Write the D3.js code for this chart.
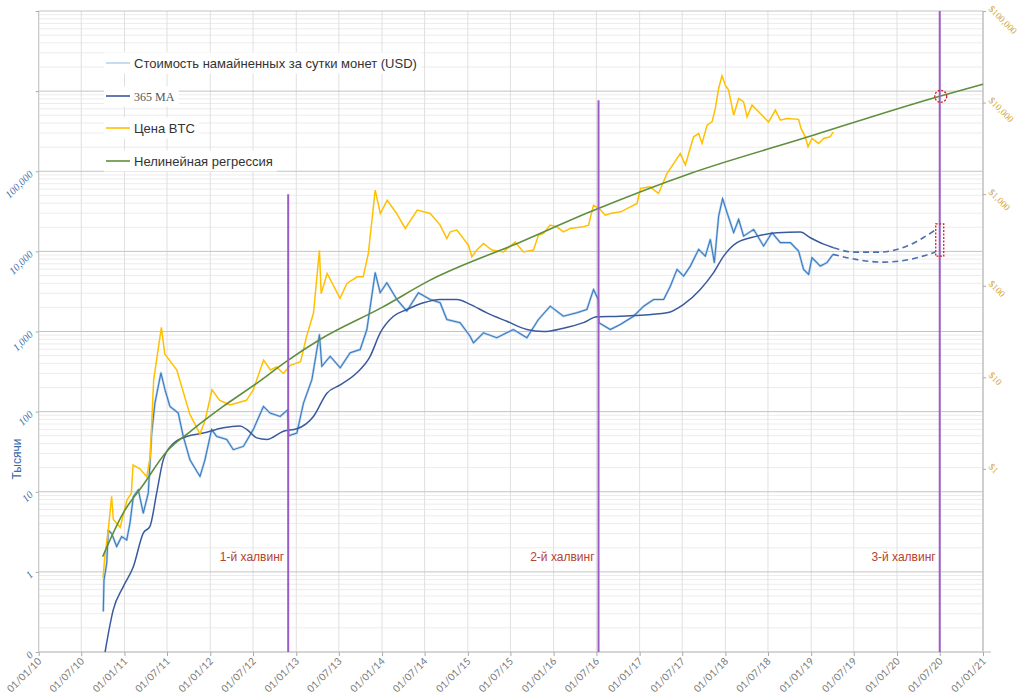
<!DOCTYPE html>
<html>
<head>
<meta charset="utf-8">
<script src="https://cdn.jsdelivr.net/npm/d3@7"></script>
<style>
  body { margin: 0; background: #fff; }
  svg { display: block; }
</style>
</head>
<body>
<div id="chart"></div>
<script>
// ---- DATA (decimal year, value) ----

// daily mined coin value, thousands USD (left axis)
var minedData = [
  [2010.753,0.32],[2010.761,0.79],[2010.793,1.28],[2010.811,3.3],[2010.851,3.0],[2010.909,2.07],
  [2010.967,2.76],[2011.026,2.5],[2011.064,4.06],[2011.103,8.7],[2011.161,10.6],[2011.219,5.4],
  [2011.277,9.6],[2011.317,54],[2011.355,128],[2011.425,305],[2011.472,188],[2011.530,116],
  [2011.627,96],[2011.685,49],[2011.763,25],[2011.880,15.5],[2011.938,25],[2012.016,60],
  [2012.075,49],[2012.191,45],[2012.268,33.5],[2012.385,36.8],[2012.501,60],[2012.618,116],
  [2012.696,96],[2012.812,87],[2012.900,105],[2012.912,50],[2013.007,54],[2013.084,128],
  [2013.182,251],[2013.270,917],[2013.298,368],[2013.395,491],[2013.512,352],[2013.628,542],
  [2013.745,596],[2013.823,1059],[2013.920,5420],[2013.978,3048],[2014.056,4064],[2014.172,2512],
  [2014.289,1794],[2014.424,3048],[2014.561,2512],[2014.677,2284],[2014.755,1413],[2014.910,1285],
  [2015.026,873],[2015.065,723],[2015.182,964],[2015.338,835],[2015.531,1059],[2015.688,835],
  [2015.823,1413],[2015.960,2070],[2016.114,1552],[2016.270,1714],[2016.387,1884],[2016.464,3350],
  [2016.518,2512],[2016.526,1285],[2016.659,1059],[2016.775,1223],[2016.930,1552],[2017.047,2070],
  [2017.163,2512],[2017.280,2512],[2017.358,3681],[2017.436,5957],[2017.513,4910],[2017.591,6550],
  [2017.688,10600],[2017.766,8730],[2017.824,14100],[2017.871,7230],[2017.921,27600],[2017.967,45600],
  [2018.019,30500],[2018.096,17100],[2018.154,25100],[2018.212,15500],[2018.329,18800],[2018.445,11650],
  [2018.543,17100],[2018.640,12850],[2018.757,12850],[2018.853,10080],[2018.911,5960],[2018.970,5160],
  [2019.009,8340],[2019.106,6550],[2019.184,7230],[2019.254,9170]
];

// 365-day moving average, thousands USD (left axis)
var maData = [
  [2010.774,0.1],[2010.869,0.335],[2010.986,0.655],[2011.103,1.16],[2011.219,3.05],[2011.297,3.7],
  [2011.375,9.6],[2011.452,25],[2011.569,40],[2011.725,49],[2011.918,54],[2012.152,63],
  [2012.346,66],[2012.424,60],[2012.541,47],[2012.657,45],[2012.851,57],[2013.007,61],
  [2013.200,87],[2013.357,170],[2013.512,215],[2013.706,305],[2013.861,490],[2013.978,960],
  [2014.133,1550],[2014.289,1880],[2014.483,2280],[2014.677,2510],[2014.872,2510],[2015.026,2180],
  [2015.221,1710],[2015.455,1340],[2015.688,1060],[2015.881,1000],[2016.114,1100],[2016.347,1290],
  [2016.503,1530],[2016.775,1550],[2016.930,1580],[2017.319,1710],[2017.513,2180],[2017.707,3350],
  [2017.862,5420],[2017.979,8730],[2018.135,12850],[2018.368,15500],[2018.601,17100],[2018.873,17400],
  [2018.990,14800],[2019.145,12300],[2019.261,11100]
];

// dashed projections to the 3rd halving (left axis)
var projUpper = [[2019.261,11100],[2019.494,9800],[2019.805,9800],[2020.117,11650],[2020.446,18500]];
var projLower = [[2019.254,9170],[2019.520,7940],[2019.836,7350],[2020.148,7940],[2020.446,9800]];

// BTC price, USD (right axis)
var priceData = [
  [2010.75,0.064],[2010.77,0.11],[2010.81,0.21],[2010.85,0.50],[2010.87,0.28],[2010.95,0.23],
  [2011.03,0.46],[2011.08,0.54],[2011.10,1.10],[2011.18,1.0],[2011.26,0.82],[2011.30,1.36],
  [2011.34,9.3],[2011.43,35],[2011.47,18],[2011.61,12],[2011.76,4.0],[2011.88,2.4],
  [2011.94,3.4],[2012.02,7.3],[2012.11,5.6],[2012.23,5.0],[2012.42,5.6],[2012.50,7.3],
  [2012.62,15.4],[2012.70,12],[2012.77,13],[2012.85,11],[2012.93,13.5],[2013.05,14.8],
  [2013.12,28],[2013.20,50],[2013.27,244],[2013.29,82],[2013.36,136],[2013.51,73],
  [2013.59,106],[2013.71,125],[2013.78,125],[2013.84,225],[2013.92,1106],[2013.98,615],
  [2014.06,860],[2014.17,615],[2014.27,422],[2014.41,669],[2014.561,615],[2014.677,459],
  [2014.755,327],[2014.794,387],[2014.872,405],[2014.949,327],[2015.007,277],[2015.047,207],
  [2015.105,245],[2015.182,289],[2015.280,245],[2015.415,234],[2015.551,300],[2015.648,234],
  [2015.765,245],[2015.823,356],[2015.881,372],[2015.959,459],[2016.037,440],[2016.114,387],
  [2016.193,422],[2016.347,440],[2016.406,459],[2016.464,759],[2016.542,680],[2016.600,590],
  [2016.659,615],[2016.78,641],[2016.97,791],[2017.01,1153],[2017.12,1202],[2017.22,1018],
  [2017.32,1683],[2017.474,2780],[2017.533,2074],[2017.571,2780],[2017.629,4225],[2017.688,4600],
  [2017.727,3580],[2017.786,5670],[2017.844,6150],[2017.882,8620],[2017.921,14260],[2017.960,19600],
  [2017.999,15500],[2018.037,13670],[2018.096,7280],[2018.154,11090],[2018.212,10180],[2018.252,6980],
  [2018.310,9370],[2018.387,7920],[2018.427,7280],[2018.503,6150],[2018.582,8260],[2018.640,6430],
  [2018.718,6700],[2018.853,6560],[2018.881,5220],[2018.931,4225],[2018.963,3280],[2019.009,4060],
  [2019.087,3580],[2019.145,4060],[2019.220,4225],[2019.259,4786]
];

// non-linear regression, USD (right axis)
var regressionData = [
  [2010.746,0.11],[2010.986,0.33],[2011.219,0.67],[2011.49,1.54],[2011.763,2.54],[2012.15,4.8],
  [2012.54,8.6],[2012.89,15],[2013.28,26],[2014.0,58],[2014.56,115],[2015.61,299],
  [2016.425,641],[2017.59,1683],[2018.91,4070],[2020.466,11500],[2021.0,15850]
];

// halvings: decimal year, label, top of the line (left-axis units)
var halvingYears  = [2012.906, 2016.522, 2020.497];
var halvingLabels = ["1-й халвинг", "2-й халвинг", "3-й халвинг"];
var halvingTops   = [51600, 772000, 1e7];

// marks at the 3rd halving
var targetRange = [8700, 22000];   // left axis
var targetPrice = 11700;           // right axis

var leftTicks  = [0.1, 1, 10, 100, 1000, 10000, 100000, 1e6, 1e7];
var leftLabels = ["0", "1", "10", "100", "1,000", "10,000", "100,000", "", ""];
var rightTicks  = [1, 10, 100, 1000, 10000, 100000];
var rightLabels = ["$1", "$10", "$100", "$1,000", "$10,000", "$100,000"];

var legendNames = ["Стоимость намайненных за сутки монет (USD)", "365 MA", "Цена BTC", "Нелинейная регрессия"];

// ---- CHART ----
var W = 1021, H = 700;
var margin = {top: 11, right: 38, bottom: 48, left: 38.7};

function toDate(y) {
  var yr = Math.floor(y);
  var a = Date.UTC(yr, 0, 1), b = Date.UTC(yr + 1, 0, 1);
  return new Date(a + (y - yr) * (b - a));
}

var x = d3.scaleUtc()
    .domain([new Date(Date.UTC(2010, 0, 1)), new Date(Date.UTC(2021, 0, 1))])
    .range([margin.left, W - margin.right]);
var yL = d3.scaleLog().domain([0.1, 1e7]).range([H - margin.bottom, margin.top]);
var yR = d3.scaleLog().domain([0.01, 1e5]).range([H - margin.bottom, margin.top]);

var svg = d3.select("#chart").append("svg")
    .attr("width", W)
    .attr("height", H);

var x0 = x.range()[0], x1 = x.range()[1];
var yBot = H - margin.bottom, yTop = margin.top;

// minor horizontal grid (2..9 of each decade, left axis)
var minor = [];
for (var e = -1; e < 7; e++) for (var k = 2; k <= 9; k++) minor.push(k * Math.pow(10, e));
svg.append("g").selectAll("line").data(minor).enter().append("line")
    .attr("x1", x0).attr("x2", x1)
    .attr("y1", function(d) { return yL(d); }).attr("y2", function(d) { return yL(d); })
    .style("stroke", "#ececec").style("stroke-width", 1);

// vertical grid
var xTicks = d3.utcMonth.every(6).range(x.domain()[0], new Date(Date.UTC(2021, 0, 2)));
svg.append("g").selectAll("line").data(xTicks).enter().append("line")
    .attr("x1", function(d) { return x(d); }).attr("x2", function(d) { return x(d); })
    .attr("y1", yTop).attr("y2", yBot)
    .style("stroke", "#e0e0e0").style("stroke-width", 1);

// major horizontal grid
svg.append("g").selectAll("line").data(leftTicks).enter().append("line")
    .attr("x1", x0).attr("x2", x1)
    .attr("y1", function(d) { return yL(d); }).attr("y2", function(d) { return yL(d); })
    .style("stroke", "#c4c4c4").style("stroke-width", 1);

// axis frame lines
svg.append("line").attr("x1", x0).attr("x2", x0).attr("y1", yTop).attr("y2", yBot)
    .style("stroke", "#c4c4c4");
svg.append("line").attr("x1", x1).attr("x2", x1).attr("y1", yTop).attr("y2", yBot)
    .style("stroke", "#c4c4c4").style("stroke-width", 1.5);
svg.append("line").attr("x1", x0).attr("x2", x1 + 8).attr("y1", yBot).attr("y2", yBot)
    .style("stroke", "#d0d0d0").style("stroke-width", 1.5);

// left axis
var gL = svg.append("g").attr("transform", "translate(" + x0 + ",0)")
    .call(d3.axisLeft(yL).tickValues(leftTicks).tickSize(3)
      .tickFormat(function(d, i) { return leftLabels[i]; }));
gL.select(".domain").remove();
gL.selectAll(".tick line").style("stroke", "#aaa");
gL.selectAll(".tick text")
    .attr("x", null).attr("dy", null)
    .attr("transform", "translate(-5,3) rotate(-45)")
    .style("text-anchor", "end")
    .style("font-family", "'Liberation Serif', serif")
    .style("font-style", "italic")
    .style("font-size", "10.5px")
    .style("fill", "#4a70a8");

// right axis
var gR = svg.append("g").attr("transform", "translate(" + x1 + ",0)")
    .call(d3.axisRight(yR).tickValues(rightTicks).tickSize(3)
      .tickFormat(function(d, i) { return rightLabels[i]; }));
gR.select(".domain").remove();
gR.selectAll(".tick line").style("stroke", "#aaa");
gR.selectAll(".tick text")
    .attr("x", null).attr("dy", null)
    .attr("transform", "translate(5,-2) rotate(45)")
    .style("text-anchor", "start")
    .style("font-family", "'Liberation Serif', serif")
    .style("font-size", "9.5px")
    .style("fill", "#d4aa3c");

// bottom axis
var gX = svg.append("g").attr("transform", "translate(0," + yBot + ")")
    .call(d3.axisBottom(x).tickValues(xTicks).tickSize(4).tickFormat(d3.utcFormat("%d/%m/%y")));
gX.select(".domain").remove();
gX.selectAll(".tick line").style("stroke", "#aaa");
gX.selectAll(".tick text")
    .attr("y", null).attr("dy", null)
    .attr("transform", "translate(3,10) rotate(-45)")
    .style("text-anchor", "end")
    .style("font-family", "Lato, sans-serif")
    .style("font-size", "10px")
    .style("fill", "#777");

// axis title
svg.append("text")
    .attr("transform", "translate(21,459) rotate(-90)")
    .attr("text-anchor", "middle")
    .style("font-family", "'Liberation Sans', Arial, sans-serif")
    .style("font-size", "12px")
    .style("fill", "#3a68a8")
    .text("Тысячи");

// ---- series ----
var lineL = d3.line().x(function(d) { return x(toDate(d[0])); }).y(function(d) { return yL(d[1]); });
var lineLs = d3.line().curve(d3.curveMonotoneX)
    .x(function(d) { return x(toDate(d[0])); }).y(function(d) { return yL(d[1]); });
var lineR = d3.line().x(function(d) { return x(toDate(d[0])); }).y(function(d) { return yR(d[1]); });
var lineRs = d3.line().curve(d3.curveMonotoneX)
    .x(function(d) { return x(toDate(d[0])); }).y(function(d) { return yR(d[1]); });

// pale halo under the daily series, like the fuzzy band in the original
svg.append("path").datum(minedData).attr("d", lineL)
    .style("fill", "none").style("stroke", "#a8c8ea").style("stroke-width", 2.4)
    .style("stroke-opacity", 0.8).style("stroke-linejoin", "round");
svg.append("path").datum(minedData).attr("d", lineL)
    .style("fill", "none").style("stroke", "#3a7cc2").style("stroke-width", 1.1);

svg.append("path").datum(maData).attr("d", lineLs)
    .style("fill", "none").style("stroke", "#3a5a9e").style("stroke-width", 1.5);

[projUpper, projLower].forEach(function(p) {
  svg.append("path").datum(p).attr("d", lineLs)
      .style("fill", "none").style("stroke", "#4a6fb0").style("stroke-width", 1.6)
      .style("stroke-dasharray", "6,4");
});

svg.append("path").datum(priceData).attr("d", lineR)
    .style("fill", "none").style("stroke", "#ffc000").style("stroke-width", 1.5);

svg.append("path").datum(regressionData).attr("d", lineRs)
    .style("fill", "none").style("stroke", "#5f8f3e").style("stroke-width", 1.6);

// halvings
halvingYears.forEach(function(h, i) {
  var hx = x(toDate(h));
  svg.append("line")
      .attr("x1", hx).attr("x2", hx)
      .attr("y1", yL(halvingTops[i])).attr("y2", yBot)
      .style("stroke", "#9a5cc8").style("stroke-width", 2);
  svg.append("text")
      .attr("x", hx - 4).attr("y", 561)
      .attr("text-anchor", "end")
      .style("font-family", "'Liberation Sans', Arial, sans-serif")
      .style("font-size", "12px")
      .style("fill", "#b4432f")
      .text(halvingLabels[i]);
});

// target marks at the 3rd halving
var tx = x(toDate(halvingYears[2]));
svg.append("rect")
    .attr("x", tx - 4).attr("width", 8)
    .attr("y", yL(targetRange[1])).attr("height", yL(targetRange[0]) - yL(targetRange[1]))
    .style("fill", "none").style("stroke", "#d62020").style("stroke-width", 1.3)
    .style("stroke-dasharray", "2,1.5");
svg.append("circle")
    .attr("cx", tx + 1).attr("cy", yR(targetPrice)).attr("r", 6)
    .style("fill", "none").style("stroke", "#d62020").style("stroke-width", 1.3)
    .style("stroke-dasharray", "2,1.5");

// legend
var legendColors = ["#b9d3ee", "#3a5a9e", "#ffc000", "#5f8f3e"];
var legendY = [63, 96, 128, 161];
var leg = svg.append("g");
legendNames.forEach(function(name, i) {
  var isMA = i === 1;
  var t = leg.append("text")
      .attr("x", 134).attr("y", legendY[i] + 4.5)
      .style("font-family", isMA ? "'Liberation Serif', serif" : "'Liberation Sans', Arial, sans-serif")
      .style("font-size", isMA ? "12px" : "13px")
      .style("fill", isMA ? "#555" : "#333")
      .text(name);
  var bb = t.node().getBBox();
  leg.insert("rect", "text")
      .attr("x", 104).attr("y", bb.y - 3)
      .attr("width", bb.x + bb.width - 104 + 4).attr("height", bb.height + 6)
      .style("fill", "#fff");
  leg.append("line")
      .attr("x1", 106).attr("x2", 130)
      .attr("y1", legendY[i]).attr("y2", legendY[i])
      .style("stroke", legendColors[i]).style("stroke-width", 1.6);
});
</script>
</body>
</html>
